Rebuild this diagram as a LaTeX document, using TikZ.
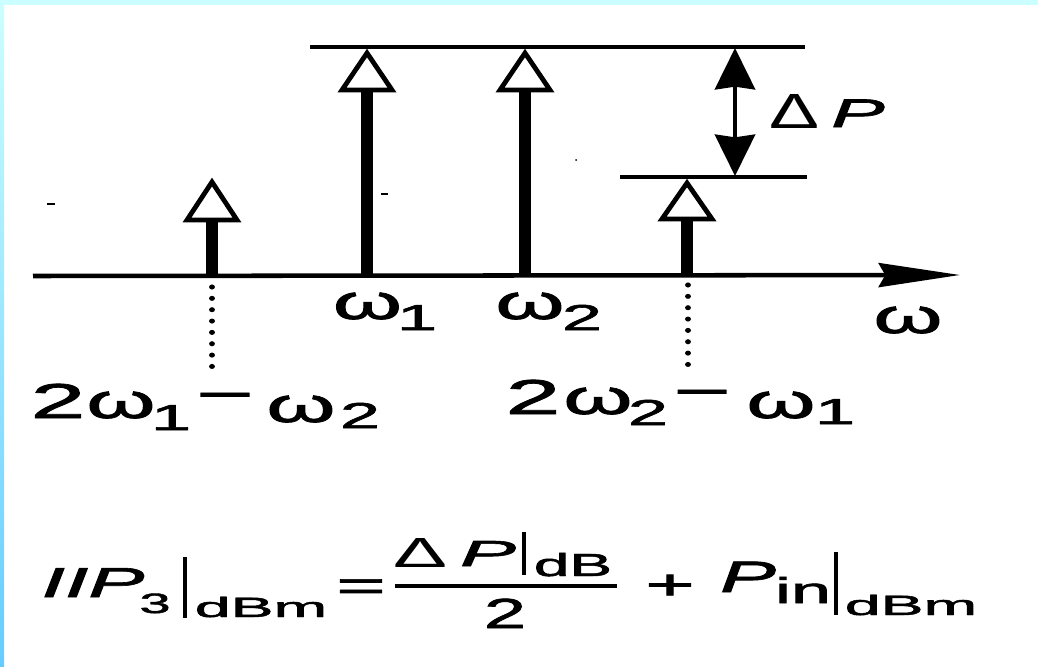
\documentclass[tikz,border=0pt]{standalone}
\usepackage{fontspec}
\setmainfont{Liberation Sans}[FakeBold=1.5]
\newfontfamily\plainfont{Liberation Sans}
\usepackage{graphicx}
\usetikzlibrary{arrows.meta}
\definecolor{topcyan}{HTML}{CCFFFF}
\definecolor{leftblue}{HTML}{66CCFF}
\newdimen\px \px=0.75pt
\newcommand{\sx}[2][2]{\scalebox{#1}[1]{#2}}
\newcommand{\rb}[3]{\resizebox{#1\px}{#2\px}{#3}}
\tikzset{
  glyph/.style={anchor=base,inner sep=0pt,outer sep=0pt,font=\fontsize{36.75}{40}\selectfont},
  gsub/.style={glyph,font=\fontsize{27}{30}\selectfont},
  fdp/.style={glyph,font=\fontsize{30}{34}\selectfont},
  fbig/.style={glyph,font=\fontsize{31.5}{34}\selectfont},
  fsub/.style={glyph,font=\fontsize{21}{24}\selectfont},
  fnum/.style={glyph,font=\fontsize{23}{26}\selectfont},
  axisline/.style={line width=3.4pt,-{Stealth[length=61pt,width=18pt,inset=5pt]}},
  stem/.style={line width=8.6pt},
  tri/.style={draw,fill=white,line width=3.6pt,line join=miter},
  level/.style={line width=3pt},
  dparrow/.style={line width=3.6pt,{Stealth[length=31pt,width=30pt,inset=2pt]}-{Stealth[length=31pt,width=30pt,inset=2pt]}},
  dotline/.style={line width=3.8pt,line cap=round,dash pattern=on 0.01pt off 8.5pt},
  bar/.style={line width=3pt},
  speck/.style={line width=1.5pt}
}
\begin{document}
\begin{tikzpicture}[x=0.75pt,y=-0.75pt]
\useasboundingbox (0,0) rectangle (1038,667);
\fill[white] (0,0) rectangle (1038,667);
\fill[topcyan] (0,0) rectangle (1038,5);
\shade[top color=topcyan,bottom color=leftblue] (0,0) rectangle (4,667);

% axis
\coordinate (ax0) at (33,276);
\coordinate (ax1) at (960,275);
\draw[axisline] (ax0) -- (ax1);

% level lines
\coordinate (top0) at (310,47);
\coordinate (top1) at (805,47);
\coordinate (low0) at (620,177);
\coordinate (low1) at (807,177);
\draw[level] (top0) -- (top1);
\draw[level] (low0) -- (low1);

% stems
\coordinate (s1b) at (212,276); \coordinate (s1t) at (212,220);
\coordinate (s2b) at (367,276); \coordinate (s2t) at (367,90);
\coordinate (s3b) at (525,276); \coordinate (s3t) at (525,90);
\coordinate (s4b) at (687,275); \coordinate (s4t) at (687,219);
\draw[stem] (s1b) -- (s1t);
\draw[stem] (s2b) -- (s2t);
\draw[stem] (s3b) -- (s3t);
\draw[stem] (s4b) -- (s4t);
\draw[tri] (212-25,220) -- (212,182) -- (212+25,220) -- cycle;
\draw[tri] (367-25,90) -- (367,53) -- (367+25,90) -- cycle;
\draw[tri] (525-25,90) -- (525,53) -- (525+25,90) -- cycle;
\draw[tri] (687-25,219) -- (687,183) -- (687+25,219) -- cycle;

% Delta P arrow
\coordinate (dpt) at (735,48);
\coordinate (dpb) at (735,176);
\draw[dparrow] (dpt) -- (dpb);

% dotted drop lines
\coordinate (d1a) at (212,287); \coordinate (d1b) at (212,370);
\coordinate (d2a) at (688,285); \coordinate (d2b) at (688,365);
\draw[dotline] (d1a) -- (d1b);
\draw[dotline] (d2a) -- (d2b);

% specks
\draw[speck] (47,204) -- (55,204);
\draw[speck] (381,194) -- (388,194);
\fill (576,160) circle (1);

% Delta P label
\node[fdp] (dpa) at (794,128) {\rb{50}{34}{\plainfont Δ}};
\node[fdp] (dpp) at (858,127) {\sx{\textit{P}}};

% omega labels
\node[glyph] (w1a) at (367.5,319) {\sx[1.8]{ω}};
\node[gsub]  (w1b) at (417,330) {\sx{1}};
\node[glyph] (w2a) at (530,319) {\sx[1.8]{ω}};
\node[gsub]  (w2b) at (582,330) {\sx{2}};
\node[glyph] (wax) at (908,333) {\sx[1.8]{ω}};

\node[glyph] (la1) at (58,418) {\sx{2}};
\node[glyph] (la2) at (121,418) {\sx[1.8]{ω}};
\node[gsub]  (la3) at (171,430) {\sx{1}};
\node[glyph] (la4) at (225,411) {\sx{−}};
\node[glyph] (la5) at (301,422) {\sx[1.8]{ω}};
\node[gsub]  (la6) at (360,428) {\sx{2}};

\node[glyph] (lb1) at (533,414) {\sx{2}};
\node[glyph] (lb2) at (598,414) {\sx[1.8]{ω}};
\node[gsub]  (lb3) at (648,425) {\sx{2}};
\node[glyph] (lb4) at (702,408) {\sx{−}};
\node[glyph] (lb5) at (781,418) {\sx[1.8]{ω}};
\node[gsub]  (lb6) at (835,424) {\sx{1}};

% formula
\node[fbig] (f1) at (93,597) {\sx{\textit{IIP}}};
\node[fsub] (f2) at (155,613) {\sx{3}};
\draw[bar] (185,557) -- (185,618);
\node[fsub] (f3) at (261,617) {\sx[2.3]{dBm}};
\node[fbig] (f4) at (361,600) {\sx{=}};
\node[fnum] (f5) at (420,567) {\rb{54}{29}{\plainfont Δ}};
\node[fnum] (f6) at (488,566) {\rb{56}{25}{\textit{P}}};
\draw[bar] (524,532) -- (524,575);
\node[glyph,font=\fontsize{24}{27}\selectfont] (f7) at (573,576) {\sx{dB}};
\draw[bar] (395,586) -- (617,586);
\node[fbig] (f8) at (505,628) {\sx[1.8]{2}};
\node[fbig] (f9) at (670,599) {\sx{+}};
\node[glyph,font=\fontsize{33}{36}\selectfont] (f10) at (748,592) {\sx[1.9]{\textit{P}}};
\node[glyph,font=\fontsize{27}{30}\selectfont] (f11) at (803,603) {\sx{in}};
\draw[bar] (836,552) -- (836,615);
\node[fsub] (f12) at (911,615) {\sx[2.3]{dBm}};
\end{tikzpicture}
\end{document}
